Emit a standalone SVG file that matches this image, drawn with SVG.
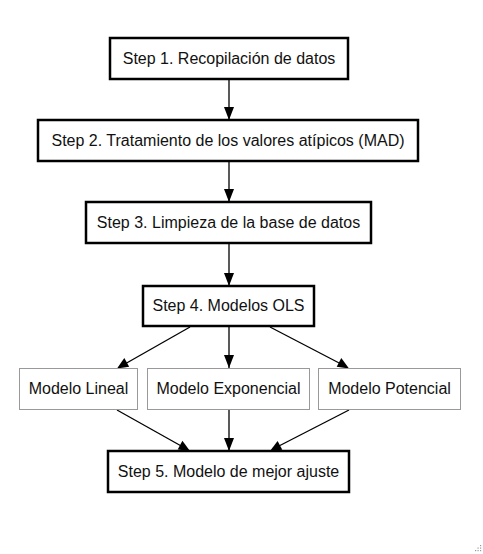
<svg xmlns="http://www.w3.org/2000/svg" width="483" height="554" viewBox="0 0 483 554">
<style>
.step{fill:#fff;stroke:#000;stroke-width:2.5}
.model{fill:#fff;stroke:#999;stroke-width:1}
text{font-family:"Liberation Sans",Arial,sans-serif;font-size:16px;fill:#111;text-anchor:middle}
.edge{stroke:#000;stroke-width:1.3;fill:none;marker-end:url(#arr)}
</style>
<defs>
<marker id="arr" viewBox="0 0 10 10" refX="10" refY="5" markerWidth="10" markerHeight="10" markerUnits="userSpaceOnUse" orient="auto">
<path d="M0,0 L10,5 L0,10 Z" fill="#000"/>
</marker>
</defs>
<rect width="483" height="554" fill="#fff"/>
<g id="connectors">
<line class="edge" x1="229" y1="79" x2="229" y2="120" style="marker-end:none"/>
<path d="M224,107 L234,107 L229,120 Z" fill="#000"/>
<line x1="229" y1="162" x2="229" y2="202" stroke="#000" stroke-width="1.3"/>
<path d="M224,189 L234,189 L229,202 Z" fill="#000"/>
<line x1="229" y1="244" x2="229" y2="286" stroke="#000" stroke-width="1.3"/>
<path d="M224,273 L234,273 L229,286 Z" fill="#000"/>
<line x1="229" y1="327" x2="229" y2="368" stroke="#000" stroke-width="1.3"/>
<path d="M224,355 L234,355 L229,368 Z" fill="#000"/>
<line x1="229" y1="410" x2="229" y2="451" stroke="#000" stroke-width="1.3"/>
<path d="M224,438 L234,438 L229,451 Z" fill="#000"/>
<line x1="190" y1="327" x2="124" y2="364.5" stroke="#000" stroke-width="1.3"/>
<path d="M117,368.5 L124.3,358.1 L129.2,366.8 Z" fill="#000"/>
<line x1="270" y1="327" x2="342" y2="364.5" stroke="#000" stroke-width="1.3"/>
<path d="M349,368.5 L336.7,366.8 L341.3,358 Z" fill="#000"/>
<line x1="117" y1="410" x2="183" y2="447" stroke="#000" stroke-width="1.3"/>
<path d="M190,451 L177.7,449.5 L182.4,440.8 Z" fill="#000"/>
<line x1="349" y1="410" x2="277" y2="447" stroke="#000" stroke-width="1.3"/>
<path d="M270,451 L277.6,441 L282.3,449.8 Z" fill="#000"/>
</g>
<g id="step1">
<rect class="step" x="110" y="38" width="238" height="41"/>
<text x="229" y="64">Step 1. Recopilación de datos</text>
</g>
<g id="step2">
<rect class="step" x="38" y="120" width="380" height="41"/>
<text x="228" y="146">Step 2. Tratamiento de los valores atípicos (MAD)</text>
</g>
<g id="step3">
<rect class="step" x="86" y="202" width="285" height="41"/>
<text x="228.5" y="228">Step 3. Limpieza de la base de datos</text>
</g>
<g id="step4">
<rect class="step" x="143" y="286" width="171" height="40"/>
<text x="228.5" y="311">Step 4. Modelos OLS</text>
</g>
<g id="lineal">
<rect class="model" x="19.5" y="368.5" width="118" height="41"/>
<text x="78.5" y="394">Modelo Lineal</text>
</g>
<g id="exponencial">
<rect class="model" x="147.5" y="368.5" width="162" height="41"/>
<text x="228.5" y="394">Modelo Exponencial</text>
</g>
<g id="potencial">
<rect class="model" x="318.5" y="368.5" width="142" height="41"/>
<text x="389.5" y="394">Modelo Potencial</text>
</g>
<g id="step5">
<rect class="step" x="108" y="451" width="241" height="41"/>
<text x="228.5" y="477">Step 5. Modelo de mejor ajuste</text>
</g>
<g id="grip" fill="#999">
<rect x="480" y="545" width="1.2" height="1.2"/>
<rect x="477.5" y="547.5" width="1.2" height="1.2"/>
<rect x="480" y="547.5" width="1.2" height="1.2"/>
<rect x="475" y="550" width="1.2" height="1.2"/>
<rect x="477.5" y="550" width="1.2" height="1.2"/>
<rect x="480" y="550" width="1.2" height="1.2"/>
</g>
</svg>
